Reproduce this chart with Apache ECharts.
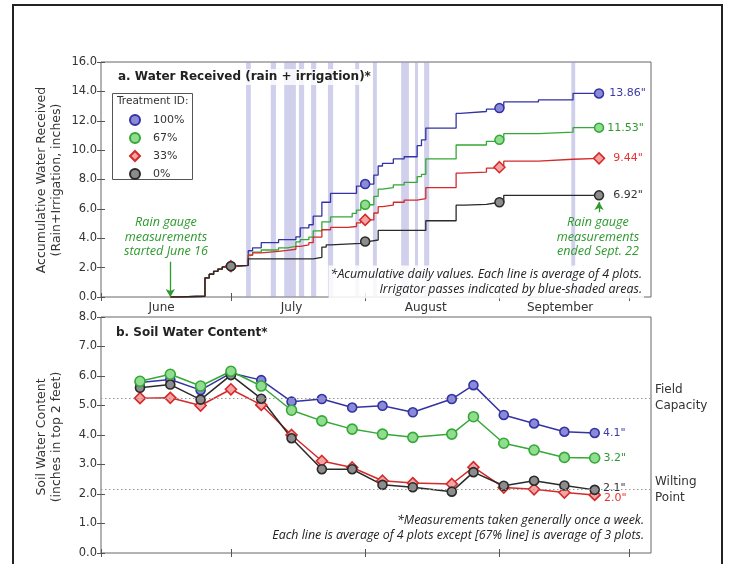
<!DOCTYPE html>
<html><head><meta charset="utf-8">
<script src="https://cdn.jsdelivr.net/npm/echarts@6/dist/echarts.min.js"></script>
<style>html,body{margin:0;padding:0;background:#fff}#c{width:729px;height:564px}</style>
</head><body><div id="c"></div>
<script>
// ---------- DATA (days since June 1) ----------
const monthTickDays = [0, 30, 61, 92, 122];
const monthLabelDays = [14, 44, 75, 106];
const monthNames = ['June', 'July', 'August', 'September'];
const treatments = ['100%', '67%', '33%', '0%'];

// irrigator passes [startDay, endDay]
const irrigationBands = [[33.5,34.6],[39.2,40.4],[42.3,45.0],[45.7,46.9],[48.5,49.7],[52.4,53.6],[58.7,59.6],[62.8,63.7],[69.3,71.1],[72.5,73.2],[74.6,75.8],[108.6,109.5]];

// cumulative water received (step values)
const water100 = [[16,0],[18,0.05],[24,1.3],[25,1.55],[26,1.75],[27,1.9],[28,2.05],[30,2.1],[31,2.15],[34,3.15],[35,3.35],[37,3.7],[41,3.9],[45,4.1],[46,4.7],[48,4.92],[49,5.5],[51,6.45],[53,7.05],[59,7.55],[60,7.69],[63,8.3],[64,8.92],[65,9.1],[67.5,9.4],[70,9.55],[73,10.3],[74,10.7],[75,11.5],[82,12.5],[83,12.63],[89,12.79],[91,12.86],[93,13.28],[101,13.42],[109,13.86],[115,13.86]];
const water67 = [[16,0],[18,0.05],[24,1.3],[25,1.55],[26,1.75],[27,1.9],[28,2.05],[30,2.1],[31,2.15],[34,2.85],[35,3.05],[37,3.2],[41,3.35],[43,3.45],[45,3.75],[46,3.9],[48,4.08],[49,4.5],[51,5.12],[53,5.45],[58,5.7],[59,5.92],[60,6.28],[63,6.85],[64,7.35],[65,7.45],[67.5,7.64],[70,7.8],[73,8.2],[74,8.35],[75,9.4],[82,10.35],[89,10.6],[91,10.7],[93,11.12],[101,11.22],[109,11.53],[115,11.53]];
const water33 = [[16,0],[18,0.05],[24,1.3],[25,1.55],[26,1.75],[27,1.9],[28,2.05],[30,2.1],[31,2.15],[34,2.85],[35,3.0],[37,3.1],[41,3.17],[43,3.25],[45,3.45],[46,3.55],[48,3.7],[49,4.08],[51,4.58],[53,4.74],[57,4.8],[59,5.05],[60,5.25],[63,5.72],[64,6.15],[65,6.25],[67.5,6.45],[70,6.6],[73,6.7],[75,7.45],[82,8.43],[83,8.5],[89,8.77],[91,8.84],[93,9.25],[101,9.38],[109,9.44],[115,9.44]];
const water0 = [[16,0],[18,0.05],[24,1.3],[25,1.55],[26,1.75],[27,1.9],[28,2.05],[30,2.1],[31,2.15],[34,2.6],[49,2.7],[51,3.4],[52,3.55],[53,3.65],[60,3.78],[62,3.88],[64,4.53],[75,5.19],[82,6.25],[84,6.3],[89,6.4],[91,6.45],[93,6.92],[115,6.92]];
const waterMarkerDays = [30, 61, 92, 115];
const gaugeStartDay = 16;
const gaugeEndDay = 115;

// soil water content
const swcDays = [9,16,23,30,37,44,51,58,65,72,81,86,93,100,107,114];
const swc100 = [5.78,5.88,5.52,6.1,5.86,5.13,5.22,4.93,4.99,4.77,5.22,5.69,4.68,4.39,4.11,4.07];
const swc67 = [5.82,6.06,5.66,6.16,5.66,4.84,4.48,4.2,4.03,3.92,4.03,4.62,3.72,3.49,3.24,3.22];
const swc33 = [5.25,5.26,5.0,5.55,5.02,4.0,3.12,2.9,2.45,2.37,2.34,2.91,2.22,2.16,2.05,1.97];
const swc0 = [5.6,5.71,5.2,6.03,5.23,3.89,2.84,2.84,2.31,2.23,2.08,2.74,2.28,2.45,2.29,2.14];
const fieldCapacity = 5.26;
const wiltingPoint = 2.15;

// ---------- STYLE ----------
const C = {
  blue: {line:'#3333a3', fill:'#8a8ad8', label:'#3a3aa8'},
  green:{line:'#35a835', fill:'#90dc90', label:'#2f9a2f'},
  red:  {line:'#d42a2a', fill:'#f4a4a4', label:'#e83232'},
  black:{line:'#2a2a2a', fill:'#8c8c8c', label:'#333333'}
};
const FONT = 'DejaVu Sans';
const annoGreen = '#2e9a2e';

function valueAt(steps, d){ let v = 0; for (const p of steps){ if (p[0] <= d) v = p[1]; } return v; }

const chart = echarts.init(document.getElementById('c'), null, {renderer:'canvas'});

function xAx(grid, pos, labels){
  return {type:'value', gridIndex:grid, position:pos, min:0, max:127,
    axisLine:{show:false}, splitLine:{show:false},
    axisTick:{show:true, inside:true, length:4, customValues:monthTickDays, lineStyle:{color:'#555'}},
    axisLabel:labels ? {show:true, customValues:monthLabelDays, margin:5, color:'#333', fontFamily:FONT, fontSize:12,
      formatter:(v)=>monthNames[monthLabelDays.indexOf(v)] || ''} : {show:false}};
}
function yAx(grid, pos, max, interval, labels){
  return {type:'value', gridIndex:grid, position:pos, min:0, max:max, interval:interval,
    axisLine:{show:false}, splitLine:{show:false},
    axisTick:{show:true, inside:true, length:4, lineStyle:{color:'#555'}},
    axisLabel:labels ? {show:true, margin:4, color:'#333', fontFamily:FONT, fontSize:11.5, formatter:(v)=>v.toFixed(1)} : {show:false}};
}

const stepSets = [[water100, C.blue, '100%'], [water67, C.green, '67%'], [water33, C.red, '33%'], [water0, C.black, '0%']];
const series = [];
stepSets.forEach(([d, col, nm], i) => {
  const s = {type:'line', name:nm + ' cumulative', xAxisIndex:0, yAxisIndex:0, step:'end', data:d, showSymbol:false,
    lineStyle:{color:col.line, width:1.3}, z:3, silent:true};
  if (i === 0) {
    s.markArea = {silent:true, z:1, itemStyle:{color:'rgba(150,150,212,0.45)'},
      data: irrigationBands.map(b => [{xAxis:b[0]}, {xAxis:b[1]}])};
    s.markLine = {silent:true, symbol:['none','arrow'], symbolSize:[7,8], label:{show:false},
      lineStyle:{color:annoGreen, width:1.3, type:'solid'},
      data:[
        [{coord:[gaugeStartDay, 2.4]}, {coord:[gaugeStartDay, 0]}],
        [{coord:[gaugeEndDay, valueAt(water0, gaugeEndDay) - 1.15]}, {coord:[gaugeEndDay, valueAt(water0, gaugeEndDay) - 0.45]}]
      ]};
  }
  series.push(s);
});
const labelDist = [5, 3, 8, 9];
stepSets.forEach(([d, col, nm], i) => {
  const pts = waterMarkerDays.map(day => [day, valueAt(d, day)]);
  series.push({type:'scatter', name:nm, xAxisIndex:0, yAxisIndex:0, data:pts,
    symbol: nm === '33%' ? 'diamond' : 'circle', symbolSize: nm === '33%' ? 11 : 9, z:5,
    itemStyle:{color:col.fill, borderColor:col.line, borderWidth:1.5, opacity:1},
    label:{show:true, position:'right', distance:labelDist[i], color:col.label, fontFamily:FONT, fontSize:11,
      formatter:(p)=> p.dataIndex === pts.length - 1 ? p.value[1].toFixed(2) + '"' : ''}});
});

const swcSets = [[swc100, C.blue, '100%', 'circle', 9, [0,0]], [swc33, C.red, '33%', 'diamond', 11, [0,3]], [swc0, C.black, '0%', 'circle', 9, [0,-2]], [swc67, C.green, '67%', 'circle', 10, [0,0]]];
swcSets.forEach(([vals, col, nm, sym, sz, off], i) => {
  const s = {type:'line', name:nm + ' soil', xAxisIndex:2, yAxisIndex:2,
    data: swcDays.map((d, k) => [d, vals[k]]), symbol:sym, symbolSize:sz, showSymbol:true, z:4,
    lineStyle:{color:col.line, width:1.5}, itemStyle:{color:col.fill, borderColor:col.line, borderWidth:1.6},
    label:{show:true, position:'right', distance:3, offset:off, color:col.label, fontFamily:FONT, fontSize:11,
      formatter:(p)=> p.dataIndex === swcDays.length - 1 ? p.value[1].toFixed(1) + '"' : ''}};
  if (i === 0) {
    s.markLine = {silent:true, symbol:'none', lineStyle:{color:'#999', type:[1.5,2.5], width:1},
      label:{show:true, position:'end', distance:4, color:'#333', fontFamily:FONT, fontSize:12, lineHeight:16},
      data:[{yAxis:fieldCapacity, label:{formatter:'Field\nCapacity'}}, {yAxis:wiltingPoint, label:{formatter:'Wilting\nPoint'}}]};
  }
  series.push(s);
});

const italic = (txt, x, y, align, size, lh, color, bg) => ({type:'text', x:x, y:y, z:50,
  style:{text:txt, align:align, verticalAlign:'middle', fontFamily:'Open Sans', fontStyle:'italic', fontSize:size,
    lineHeight:lh, fill:color, backgroundColor:bg || null, padding: bg ? [1,2] : 0}});

const option = {
  animation:false,
  backgroundColor:'#fff',
  grid:[
    {left:101, top:62, width:550, height:235, show:true, borderColor:'#666', borderWidth:1, backgroundColor:'transparent'},
    {left:101, top:317, width:550, height:236, show:true, borderColor:'#666', borderWidth:1, backgroundColor:'transparent'}
  ],
  xAxis:[xAx(0,'bottom',true), xAx(0,'top',false), xAx(1,'bottom',false), xAx(1,'top',false)],
  yAxis:[yAx(0,'left',16,2,true), yAx(0,'right',16,2,false), yAx(1,'left',8,1,true), yAx(1,'right',8,1,false)],
  legend:{data:treatments, orient:'vertical', left:124, top:109, itemWidth:10, itemHeight:10, itemGap:6,
    selectedMode:false, textStyle:{fontFamily:FONT, fontSize:11, color:'#333', padding:[0,0,0,8], lineHeight:12}},
  series:series,
  graphic:[
    {type:'rect', z:-1, shape:{x:13, y:5, width:709, height:575}, style:{fill:'none', stroke:'#222', lineWidth:2}},
    {type:'rect', z:3, shape:{x:112.5, y:93.5, width:80, height:86}, style:{fill:'#fff', stroke:'#555', lineWidth:1}},
    {type:'text', z:4, x:117, y:101.5, style:{text:'Treatment ID:', fontFamily:FONT, fontSize:10.5, fill:'#333', verticalAlign:'middle'}},
    {type:'text', z:50, x:116, y:77, style:{text:'a. Water Received (rain + irrigation)*', fontFamily:FONT, fontWeight:'bold', fontSize:12, fill:'#222', verticalAlign:'middle', backgroundColor:'rgba(255,255,255,0.8)', padding:[2,2]}},
    {type:'text', z:50, x:116, y:333, style:{text:'b. Soil Water Content*', fontFamily:FONT, fontWeight:'bold', fontSize:12, fill:'#222', verticalAlign:'middle'}},
    {type:'text', z:50, x:49, y:180, rotation:Math.PI/2, style:{text:'Accumulative Water Received\n(Rain+Irrigation, inches)', fontFamily:FONT, fontSize:12.5, lineHeight:15, fill:'#333', align:'center', verticalAlign:'middle'}},
    {type:'text', z:50, x:49, y:437, rotation:Math.PI/2, style:{text:'Soil Water Content\n(inches in top 2 feet)', fontFamily:FONT, fontSize:12.5, lineHeight:15, fill:'#333', align:'center', verticalAlign:'middle'}},
    italic('Rain gauge\nmeasurements\nstarted June 16', 166, 237, 'center', 12.6, 14.5, annoGreen),
    italic('Rain gauge\nmeasurements\nended Sept. 22', 598, 237, 'center', 12.6, 14.5, annoGreen),
    italic('*Acumulative daily values. Each line is average of 4 plots.\nIrrigator passes indicated by blue-shaded areas.', 644, 282, 'right', 12.4, 15.5, '#222', 'rgba(255,255,255,0.85)'),
    italic('*Measurements taken generally once a week.\nEach line is average of 4 plots except [67% line] is average of 3 plots.', 644, 528, 'right', 12.4, 15, '#222')
  ]
};
chart.setOption(option);
</script></body></html>
